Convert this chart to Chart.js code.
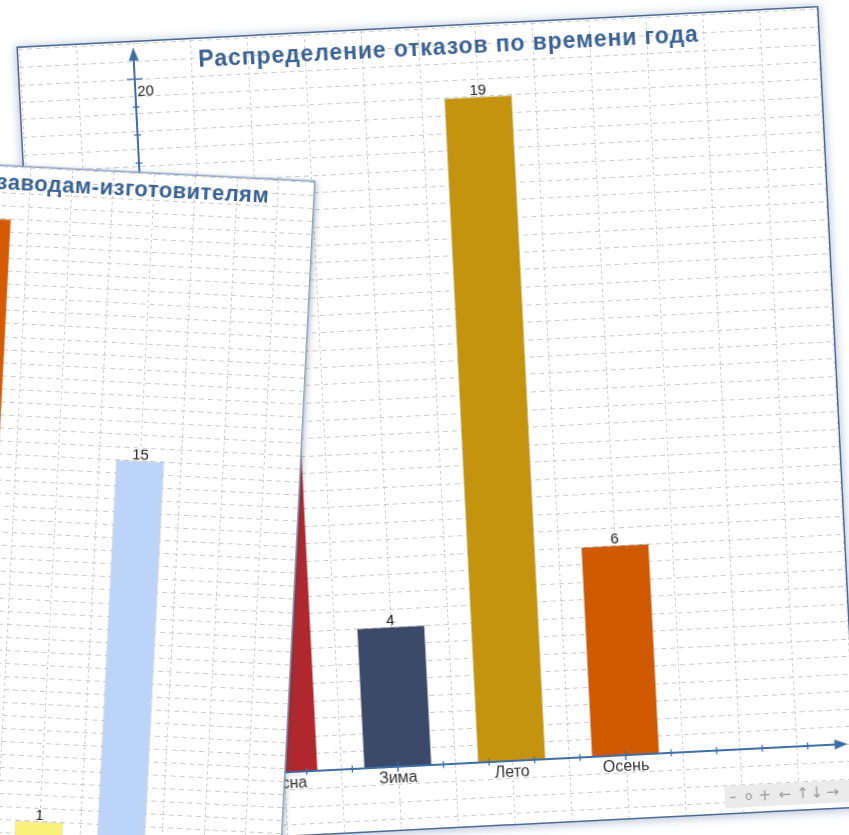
<!DOCTYPE html>
<html lang="ru">
<head>
<meta charset="utf-8">
<title>Распределение отказов</title>
<script src="https://cdn.jsdelivr.net/npm/chart.js@4.4.1/dist/chart.umd.min.js"></script>
<style>
  html, body { margin: 0; padding: 0; background: #ffffff; }
  body { width: 849px; height: 835px; overflow: hidden; position: relative;
         font-family: "Liberation Sans", Arial, sans-serif; }
  .panel { position: absolute; background: #ffffff; }
  .panel canvas { position: absolute; left: 0; top: 0; }
  #seasonPanel { left: 18px; top: 48px; width: 800px; height: 800px;
    transform-origin: 0 0; transform: rotate(-2.9deg);
    box-shadow: 0 0 0 1.5px #4d6a92, 0 1px 9px 3px rgba(110, 135, 180, 0.45); }
  #plantPanel { left: -456.5px; top: 181.5px; width: 770px; height: 760px;
    transform-origin: 100% 0; transform: rotate(2.9deg);
    box-shadow: 0 0 0 1.5px #8ea5c6, 3px 0 6px rgba(60, 70, 90, 0.35); }
  .title { position: absolute; white-space: nowrap; text-align: center; color: #3a6293;
    font-family: "Liberation Sans", Arial, sans-serif; font-weight: bold; line-height: 26px; }
  #seasonPanel .title { left: 30px; width: 800px; top: 7px; font-size: 23px; letter-spacing: 0.9px; }
  #plantPanel .title { left: 49px; width: 770px; top: 3px; font-size: 22px; letter-spacing: 0.5px; }
  .toolbar { position: absolute; left: 668px; top: 773px; width: 132px; height: 22px;
    background: #ebebeb; color: #999999; font: 15px/22px "DejaVu Sans", sans-serif; }
  .toolbar span { position: absolute; top: 0; width: 16px; margin-left: -8px; text-align: center; }
</style>
</head>
<body>
<div class="panel" id="seasonPanel">
  <canvas id="seasonChart" width="800" height="800"></canvas>
  <div class="title">Распределение отказов по времени года</div>
  <div class="toolbar">
    <span style="left:8px">–</span><span style="left:24px;font-size:12px">o</span><span style="left:40px">+</span><span style="left:60px">←</span><span style="left:78px">↑</span><span style="left:92px">↓</span><span style="left:108px">→</span>
  </div>
</div>
<div class="panel" id="plantPanel">
  <canvas id="plantChart" width="770" height="760"></canvas>
  <div class="title">Распределение отказов по заводам-изготовителям</div>
</div>
<script>
// Отказы по времени года
const seasons = ['Весна', 'Зима', 'Лето', 'Осень'];
const seasonFailures = [15, 4, 19, 6];
const seasonColors = ['#b0282e', '#3c4a6a', '#c5940f', '#cf5a01'];
const seasonYLabels = [4, 8, 12, 16, 20];

// Отказы по заводам-изготовителям
const plants = ['Завод 1', 'Завод 2', 'Завод 3', 'Завод 4', 'Завод 5', 'Завод 6'];
const plantFailures = [1, 2, 1, 24, 1, 15];
const plantColors = ['#8a9a5b', '#7f6aa6', '#4f9fc0', '#d55b00', '#fbf27a', '#bcd4f7'];
const plantYLabels = [5, 10, 15, 20, 25];

Chart.defaults.font.family = '"Liberation Sans", Arial, sans-serif';

// Оси со стрелками, засечки и подписи
const arrowAxes = {
  id: 'arrowAxes',
  afterDatasetsDraw(chart, _args, o) {
    const { ctx, scales: { x, y } } = chart;
    const ox = x.getPixelForValue(o.xStart);
    const oy = y.getPixelForValue(0);
    const xe = x.getPixelForValue(o.xEnd);
    const ye = y.getPixelForValue(o.yEnd);
    ctx.save();
    ctx.strokeStyle = o.color;
    ctx.fillStyle = o.color;
    ctx.lineWidth = 2;
    ctx.beginPath();
    ctx.moveTo(ox, oy); ctx.lineTo(xe - 8, oy);
    ctx.moveTo(ox, oy); ctx.lineTo(ox, ye + 8);
    ctx.stroke();
    ctx.beginPath();
    ctx.moveTo(xe, oy); ctx.lineTo(xe - 13, oy - 5); ctx.lineTo(xe - 13, oy + 5);
    ctx.closePath(); ctx.fill();
    ctx.beginPath();
    ctx.moveTo(ox, ye); ctx.lineTo(ox - 5, ye + 13); ctx.lineTo(ox + 5, ye + 13);
    ctx.closePath(); ctx.fill();

    ctx.lineWidth = 1.3;
    const nx = Math.floor((o.xEnd - o.xStart - 0.15) / o.xStep);
    for (let k = 0; k <= nx; k++) {
      const px = x.getPixelForValue(o.xStart + k * o.xStep);
      const h = k % 5 === 0 ? 5 : 3.5;
      ctx.beginPath(); ctx.moveTo(px, oy - h); ctx.lineTo(px, oy + h); ctx.stroke();
    }
    const ny = Math.floor((o.yEnd - 0.3) / o.yStep);
    for (let k = 1; k <= ny; k++) {
      const v = k * o.yStep;
      const py = y.getPixelForValue(v);
      const major = o.yLabels.some(l => Math.abs(l - v) < 1e-6);
      const w = major ? 8 : 3.5;
      ctx.beginPath(); ctx.moveTo(ox - w, py); ctx.lineTo(ox + w, py); ctx.stroke();
    }

    ctx.fillStyle = '#222222';
    ctx.font = '15px "Liberation Sans", Arial, sans-serif';
    ctx.textAlign = 'left';
    ctx.textBaseline = 'top';
    o.yLabels.forEach(v => ctx.fillText(String(v), ox + 2, y.getPixelForValue(v) + 5));

    ctx.fillStyle = '#333333';
    ctx.font = '16px "Liberation Sans", Arial, sans-serif';
    ctx.textAlign = 'center';
    chart.data.labels.forEach((t, i) => ctx.fillText(t, x.getPixelForValue(i), oy + 4));

    ctx.fillStyle = '#222222';
    ctx.font = '15px "Liberation Sans", Arial, sans-serif';
    ctx.textBaseline = 'alphabetic';
    const ds = chart.data.datasets[0];
    chart.getDatasetMeta(0).data.forEach((bar, i) => {
      ctx.fillText(String(ds.data[i].y), bar.x, bar.y - 2);
    });
    ctx.restore();
  }
};

function halfSteps(min, max) {
  const out = [];
  for (let k = Math.ceil(min * 2); k <= Math.floor(max * 2); k++) out.push({ value: k / 2 });
  return out;
}

function drawPanel(canvasId, labels, values, colors, yLabels, g) {
  const xMin = -1 - g.axisPx / g.unitX;
  const xMax = xMin + g.w / g.unitX;
  const yMax = g.basePx / g.unitY;
  const yMin = -(g.h - g.basePx) / g.unitY;
  return new Chart(document.getElementById(canvasId), {
    type: 'bar',
    data: {
      labels: labels,
      datasets: [{
        data: values.map((v, i) => ({ x: i, y: v })),
        backgroundColor: colors,
        borderColor: 'rgba(0,0,0,0.12)',
        borderWidth: 1,
        barThickness: g.barThickness
      }]
    },
    options: {
      responsive: false,
      animation: false,
      devicePixelRatio: 1,
      layout: { padding: 0 },
      plugins: {
        legend: { display: false },
        tooltip: { enabled: false },
        title: { display: false },
        arrowAxes: {
          color: '#3e6ea6',
          xStart: -1, xEnd: g.xArrow, xStep: 0.4,
          yEnd: g.yArrow, yStep: g.yStep, yLabels: yLabels
        }
      },
      scales: {
        x: {
          type: 'linear', min: xMin, max: xMax, offset: false,
          ticks: { display: false },
          grid: { color: '#cbcbcb', lineWidth: 1, drawTicks: false, offset: false },
          border: { display: false, dash: [3, 3] },
          afterBuildTicks: s => { s.ticks = halfSteps(xMin, xMax); }
        },
        y: {
          type: 'linear', min: yMin, max: yMax,
          ticks: { display: false },
          grid: { color: '#cbcbcb', lineWidth: 1, drawTicks: false },
          border: { display: false, dash: [5, 4] },
          afterBuildTicks: s => { s.ticks = halfSteps(yMin, yMax); }
        }
      }
    },
    plugins: [arrowAxes]
  });
}

drawPanel('seasonChart', seasons, seasonFailures, seasonColors, seasonYLabels, {
  w: 800, h: 800, axisPx: 115, unitX: 114, basePx: 737, unitY: 35,
  xArrow: 4.95, yArrow: 20.9, yStep: 0.8, barThickness: 68
});
drawPanel('plantChart', plants, plantFailures, plantColors, plantYLabels, {
  w: 770, h: 760, axisPx: 115.5, unitX: 82.5, basePx: 679, unitY: 26.1,
  xArrow: 6.85, yArrow: 25.8, yStep: 1, barThickness: 48
});
</script>
</body>
</html>
